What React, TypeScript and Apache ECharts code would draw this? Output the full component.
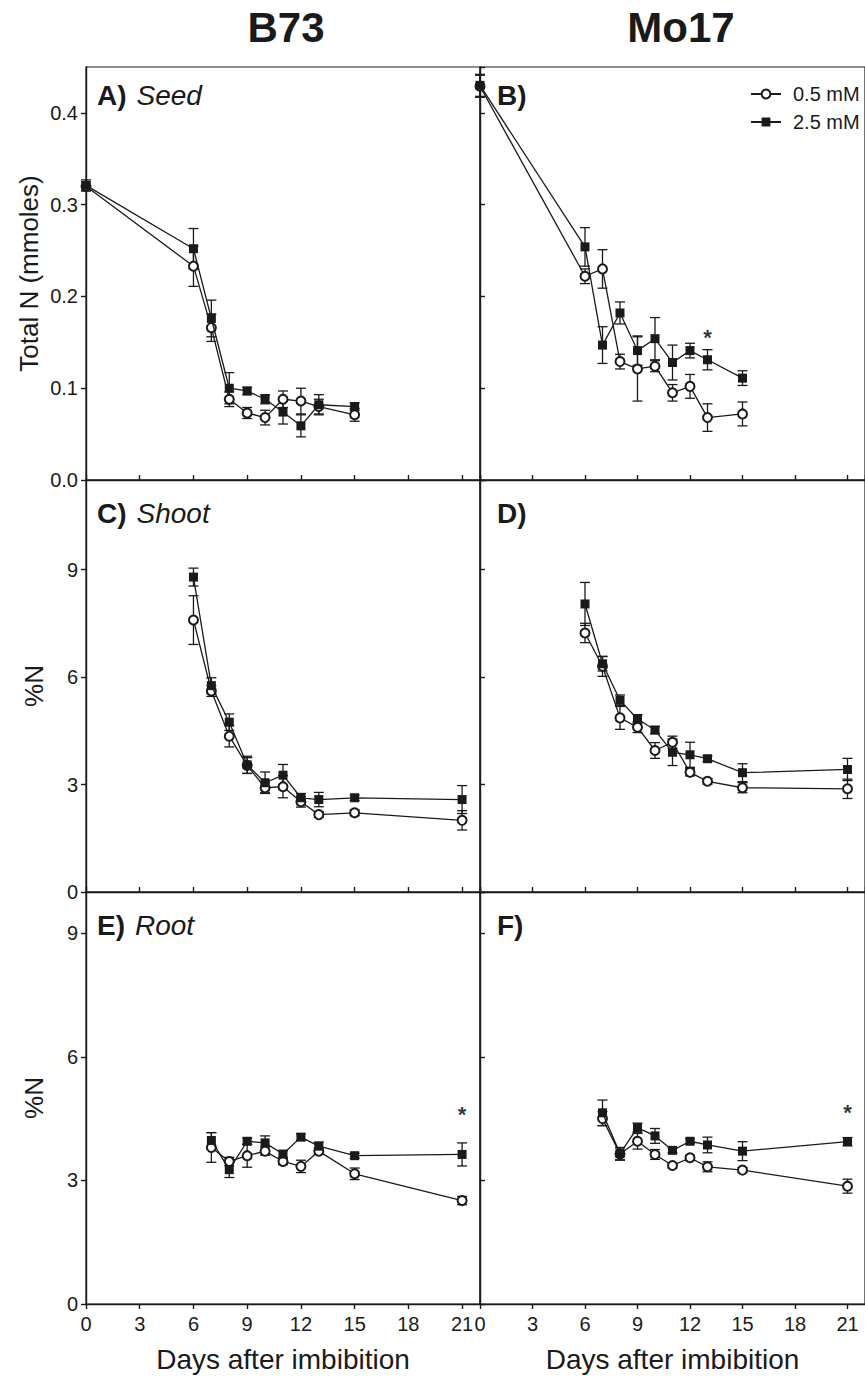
import React, { useEffect, useRef } from "react";
import * as echarts from "echarts";

const FONT = '"Liberation Sans", Arial, Helvetica, sans-serif';
const INK = "#1a1a1a";

// ---------- data ----------
const daysSeed = [0, 6, 7, 8, 9, 10, 11, 12, 13, 15];
const daysShoot = [6, 7, 8, 9, 10, 11, 12, 13, 15, 21];
const daysRoot = [7, 8, 9, 10, 11, 12, 13, 15, 21];
const xTicks = [0, 3, 6, 9, 12, 15, 18, 21];

// A) Seed, B73
const seedB73Low = [0.320, 0.233, 0.166, 0.088, 0.073, 0.068, 0.088, 0.086, 0.080, 0.071];
const seedB73LowErr = [0.005, 0.022, 0.015, 0.008, 0.006, 0.008, 0.009, 0.014, 0.008, 0.007];
const seedB73High = [0.321, 0.252, 0.176, 0.100, 0.097, 0.088, 0.074, 0.059, 0.082, 0.080];
const seedB73HighErr = [0.006, 0.022, 0.020, 0.017, 0.004, 0.005, 0.013, 0.012, 0.011, 0.004];

// B) Seed, Mo17
const seedMo17Low = [0.429, 0.222, 0.230, 0.129, 0.121, 0.124, 0.095, 0.102, 0.068, 0.072];
const seedMo17LowErr = [0.012, 0.008, 0.021, 0.008, 0.035, 0.006, 0.009, 0.013, 0.015, 0.013];
const seedMo17High = [0.430, 0.254, 0.147, 0.182, 0.141, 0.154, 0.128, 0.141, 0.131, 0.111];
const seedMo17HighErr = [0.012, 0.021, 0.020, 0.012, 0.016, 0.023, 0.019, 0.008, 0.011, 0.008];

// C) Shoot, B73
const shootB73Low = [7.59, 5.61, 4.35, 3.53, 2.91, 2.94, 2.52, 2.16, 2.21, 2.0];
const shootB73LowErr = [0.68, 0.15, 0.3, 0.22, 0.14, 0.31, 0.15, 0.08, 0.08, 0.27];
const shootB73High = [8.79, 5.76, 4.74, 3.55, 3.05, 3.26, 2.63, 2.58, 2.63, 2.58];
const shootB73HighErr = [0.25, 0.22, 0.23, 0.24, 0.3, 0.3, 0.12, 0.2, 0.08, 0.39];

// D) Shoot, Mo17
const shootMo17Low = [7.23, 6.3, 4.86, 4.6, 3.95, 4.18, 3.34, 3.09, 2.91, 2.88];
const shootMo17LowErr = [0.27, 0.28, 0.32, 0.15, 0.22, 0.17, 0.1, 0.08, 0.14, 0.27];
const shootMo17High = [8.04, 6.37, 5.35, 4.83, 4.52, 3.9, 3.83, 3.72, 3.33, 3.42];
const shootMo17HighErr = [0.6, 0.2, 0.15, 0.12, 0.1, 0.37, 0.35, 0.08, 0.25, 0.31];

// E) Root, B73
const rootB73Low = [3.8, 3.46, 3.6, 3.71, 3.46, 3.34, 3.71, 3.16, 2.51];
const rootB73LowErr = [0.36, 0.1, 0.28, 0.1, 0.08, 0.15, 0.08, 0.14, 0.1];
const rootB73High = [3.97, 3.26, 3.95, 3.91, 3.64, 4.05, 3.83, 3.6, 3.63];
const rootB73HighErr = [0.19, 0.19, 0.08, 0.17, 0.08, 0.08, 0.1, 0.06, 0.28];

// F) Root, Mo17
const rootMo17Low = [4.5, 3.64, 3.95, 3.63, 3.36, 3.55, 3.33, 3.25, 2.86];
const rootMo17LowErr = [0.17, 0.15, 0.19, 0.12, 0.06, 0.06, 0.12, 0.06, 0.17];
const rootMo17High = [4.64, 3.65, 4.28, 4.08, 3.73, 3.95, 3.86, 3.71, 3.94];
const rootMo17HighErr = [0.31, 0.15, 0.11, 0.18, 0.06, 0.06, 0.19, 0.23, 0.1];

// significance markers [day, value]
const starSeedMo17 = [[13, 0.155]];
const starRootB73 = [[21, 4.6]];
const starRootMo17 = [[21, 4.65]];

const seriesNames = ["0.5 mM", "2.5 mM"];
const columnTitles = ["B73", "Mo17"];

// ---------- layout ----------
const gridLefts = [86, 480];
const gridWidths = [394, 393];
const gridTops = [67, 480, 892];
const gridHeights = [413, 412, 412];

type Panel = {
  days: number[];
  low: number[];
  lowErr: number[];
  high: number[];
  highErr: number[];
  stars: number[][];
  max: number;
  interval: number;
  name: string;
  label: string;
  organ: string;
};

const panels: Panel[] = [
  { days: daysSeed, low: seedB73Low, lowErr: seedB73LowErr, high: seedB73High, highErr: seedB73HighErr, stars: [], max: 0.45, interval: 0.1, name: "Total N (mmoles)", label: "A)", organ: "Seed" },
  { days: daysSeed, low: seedMo17Low, lowErr: seedMo17LowErr, high: seedMo17High, highErr: seedMo17HighErr, stars: starSeedMo17, max: 0.45, interval: 0.1, name: "", label: "B)", organ: "" },
  { days: daysShoot, low: shootB73Low, lowErr: shootB73LowErr, high: shootB73High, highErr: shootB73HighErr, stars: [], max: 11.5, interval: 3, name: "%N", label: "C)", organ: "Shoot" },
  { days: daysShoot, low: shootMo17Low, lowErr: shootMo17LowErr, high: shootMo17High, highErr: shootMo17HighErr, stars: [], max: 11.5, interval: 3, name: "", label: "D)", organ: "" },
  { days: daysRoot, low: rootB73Low, lowErr: rootB73LowErr, high: rootB73High, highErr: rootB73HighErr, stars: starRootB73, max: 10, interval: 3, name: "%N", label: "E)", organ: "Root" },
  { days: daysRoot, low: rootMo17Low, lowErr: rootMo17LowErr, high: rootMo17High, highErr: rootMo17HighErr, stars: starRootMo17, max: 10, interval: 3, name: "", label: "F)", organ: "" },
];

function errorBarSeries(gi: number, days: number[], vals: number[], errs: number[]) {
  return {
    type: "custom",
    xAxisIndex: gi,
    yAxisIndex: gi,
    z: 1,
    silent: true,
    clip: false,
    encode: { x: 0, y: [1, 2] },
    data: days.map((d, i) => [d, vals[i] - errs[i], vals[i] + errs[i]]),
    renderItem: (params: any, api: any) => {
      const x = api.value(0);
      const lo = api.coord([x, api.value(1)]);
      const hi = api.coord([x, api.value(2)]);
      const w = 5;
      const style = { stroke: INK, lineWidth: 1.3, fill: "none" };
      return {
        type: "group",
        children: [
          { type: "line", shape: { x1: lo[0], y1: lo[1], x2: hi[0], y2: hi[1] }, style },
          { type: "line", shape: { x1: lo[0] - w, y1: lo[1], x2: lo[0] + w, y2: lo[1] }, style },
          { type: "line", shape: { x1: hi[0] - w, y1: hi[1], x2: hi[0] + w, y2: hi[1] }, style },
        ],
      };
    },
  };
}

function buildOption() {
  const grid: any[] = [];
  const xAxis: any[] = [];
  const yAxis: any[] = [];
  const series: any[] = [];
  const graphic: any[] = [];

  panels.forEach((p, gi) => {
    const row = Math.floor(gi / 2);
    const col = gi % 2;
    const bottom = row === 2;
    const leftCol = col === 0;
    grid.push({
      left: gridLefts[col],
      top: gridTops[row],
      width: gridWidths[col],
      height: gridHeights[row],
      show: true,
      borderColor: INK,
      borderWidth: 1.2,
      backgroundColor: "transparent",
    });
    xAxis.push({
      type: "value",
      gridIndex: gi,
      min: 0,
      max: 22,
      interval: 3,
      axisLine: { show: true, onZero: false, lineStyle: { color: INK, width: 1.4 } },
      axisTick: { show: true, inside: !bottom, length: 5, lineStyle: { color: INK, width: 1.4 } },
      axisLabel: {
        show: bottom,
        showMaxLabel: false,
        fontSize: 20,
        fontFamily: FONT,
        color: INK,
        margin: 10,
        formatter: (v: number) => (xTicks.includes(v) ? String(v) : ""),
      },
      splitLine: { show: false },
      name: bottom ? "Days after imbibition" : "",
      nameLocation: "middle",
      nameGap: 41,
      nameTextStyle: { fontSize: 28, fontFamily: FONT, color: INK },
    });
    yAxis.push({
      type: "value",
      gridIndex: gi,
      min: 0,
      max: p.max,
      interval: p.interval,
      axisLine: { show: true, onZero: false, lineStyle: { color: INK, width: 1.4 } },
      axisTick: { show: true, inside: !leftCol, length: 5, lineStyle: { color: INK, width: 1.4 } },
      axisLabel: {
        show: leftCol,
        showMaxLabel: false,
        fontSize: 20,
        fontFamily: FONT,
        color: INK,
        margin: 8,
        formatter: (v: number) => (p.interval < 1 ? v.toFixed(1) : String(Math.round(v))),
      },
      splitLine: { show: false },
      name: p.name,
      nameLocation: "middle",
      nameGap: p.name.length > 3 ? 44 : 39,
      nameRotate: 90,
      nameTextStyle: { fontSize: 26, fontFamily: FONT, color: INK },
    });

    series.push(errorBarSeries(gi, p.days, p.low, p.lowErr));
    series.push(errorBarSeries(gi, p.days, p.high, p.highErr));
    series.push({
      type: "line",
      name: seriesNames[0],
      xAxisIndex: gi,
      yAxisIndex: gi,
      z: 3,
      clip: false,
      data: p.days.map((d, i) => [d, p.low[i]]),
      symbol: "circle",
      symbolSize: 9,
      lineStyle: { color: INK, width: 1.3 },
      itemStyle: { color: "#ffffff", borderColor: INK, borderWidth: 2 },
    });
    series.push({
      type: "line",
      name: seriesNames[1],
      xAxisIndex: gi,
      yAxisIndex: gi,
      z: 4,
      clip: false,
      data: p.days.map((d, i) => [d, p.high[i]]),
      symbol: "rect",
      symbolSize: 9,
      lineStyle: { color: INK, width: 1.3 },
      itemStyle: { color: INK, borderColor: INK, borderWidth: 0 },
    });
    if (p.stars.length) {
      series.push({
        type: "scatter",
        xAxisIndex: gi,
        yAxisIndex: gi,
        z: 5,
        silent: true,
        symbolSize: 2,
        itemStyle: { color: "rgba(0,0,0,0)" },
        data: p.stars,
        label: {
          show: true,
          position: "inside",
          formatter: "*",
          fontSize: 22,
          fontWeight: "bold",
          fontFamily: FONT,
          color: "#000",
        },
      });
    }

    // panel label
    graphic.push({
      type: "text",
      x: leftCol ? 97 : 497,
      y: gridTops[row] + (row === 0 ? 28 : 33),
      style: {
        text: p.organ ? `{b|${p.label}}{i|${p.organ}}` : `{b|${p.label}}`,
        rich: {
          b: { fontSize: 28, fontWeight: "bold", fontFamily: FONT, fill: INK, color: INK },
          i: { fontSize: 28, fontStyle: "italic", fontFamily: FONT, fill: INK, color: INK, padding: [0, 0, 0, 10] },
        },
        verticalAlign: "middle",
        align: "left",
      },
    });
  });

  // column titles
  graphic.push({
    type: "text",
    x: 286,
    y: 27,
    style: { text: columnTitles[0], fontSize: 42, fontWeight: "bold", fontFamily: FONT, fill: INK, align: "center", verticalAlign: "middle" },
  });
  graphic.push({
    type: "text",
    x: 681,
    y: 27,
    style: { text: columnTitles[1], fontSize: 42, fontWeight: "bold", fontFamily: FONT, fill: INK, align: "center", verticalAlign: "middle" },
  });

  return {
    animation: false,
    backgroundColor: "#ffffff",
    textStyle: { fontFamily: FONT },
    legend: {
      data: seriesNames,
      orient: "vertical",
      left: 745,
      top: 79,
      itemWidth: 30,
      itemHeight: 11,
      itemGap: 8,
      selectedMode: false,
      textStyle: { fontSize: 20, fontFamily: FONT, color: INK, padding: [0, 0, 0, 7] },
    },
    grid,
    xAxis,
    yAxis,
    series,
    graphic,
  };
}

export default function App() {
  const ref = useRef<HTMLDivElement>(null);
  useEffect(() => {
    if (!ref.current) return;
    const chart = echarts.init(ref.current, undefined, { renderer: "svg" });
    chart.setOption(buildOption() as any);
    return () => chart.dispose();
  }, []);
  return (
    <div
      ref={ref}
      style={{ position: "absolute", left: 0, top: 0, width: 865, height: 1378, background: "#fff" }}
    />
  );
}
